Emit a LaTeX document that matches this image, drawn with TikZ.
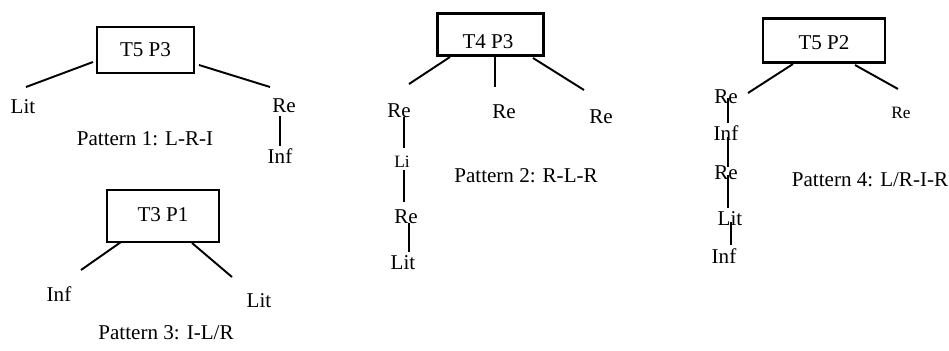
\documentclass[tikz,border=0pt]{standalone}
\usepackage{fontspec}
\setmainfont{Liberation Serif}
\begin{document}
\begin{tikzpicture}[x=0.75pt,y=-0.75pt,
  lbl/.style={inner sep=0pt,anchor=base,font=\fontsize{15.8}{18}\selectfont},
  sml/.style={inner sep=0pt,anchor=base,font=\fontsize{13}{15}\selectfont},
  boxthin/.style={draw,line width=1.5pt,inner sep=0pt},
  boxthick/.style={draw,line width=2.2pt,inner sep=0pt},
  conn/.style={line width=1.45pt}]
\useasboundingbox (0,0) rectangle (949,350);
% ---------- Pattern 1
\node[boxthin,minimum width=72.5pt,minimum height=34.5pt] (b1) at (145.5,50) {};
\node[lbl] (b1t) at (145.5,56.5) {T5 P3};
\node[lbl] (p1lit) at (23,113) {Lit};
\node[lbl] (p1re) at (284,112) {Re};
\node[lbl] (p1inf) at (280,163) {Inf};
\node[lbl] (p1cap) at (145,145) {Pattern 1: L-R-I};
\coordinate (a1) at (93,62); \coordinate (a2) at (26,87);
\coordinate (a3) at (199,65); \coordinate (a4) at (270,87);
\coordinate (a5) at (280,116); \coordinate (a6) at (280,146);
\draw[conn] (a1) -- (a2);
\draw[conn] (a3) -- (a4);
\draw[conn] (a5) -- (a6);
% ---------- Pattern 3
\node[boxthin,minimum width=84pt,minimum height=39pt] (b3) at (163,216) {};
\node[lbl] (b3t) at (163,221) {T3 P1};
\node[lbl] (p3inf) at (59,301) {Inf};
\node[lbl] (p3lit) at (259,307) {Lit};
\node[lbl] (p3cap) at (166,339) {Pattern 3: I-L/R};
\coordinate (c1) at (121,242); \coordinate (c2) at (81,270);
\coordinate (c3) at (192,243); \coordinate (c4) at (232,277);
\draw[conn] (c1) -- (c2);
\draw[conn] (c3) -- (c4);
% ---------- Pattern 2
\node[boxthick,minimum width=80pt,minimum height=32pt] (b2) at (490.5,34.5) {};
\node[lbl] (b2t) at (488,48) {T4 P3};
\node[lbl] (p2re1) at (399,117) {Re};
\node[lbl] (p2re2) at (504,118) {Re};
\node[lbl] (p2re3) at (601,123) {Re};
\node[sml] (p2li) at (402,167) {Li};
\node[lbl] (p2re4) at (406,223) {Re};
\node[lbl] (p2lit) at (403,269) {Lit};
\node[lbl] (p2cap) at (526,182) {Pattern 2: R-L-R};
\coordinate (d1) at (450,57); \coordinate (d2) at (409,84);
\coordinate (d3) at (495,55); \coordinate (d4) at (495,87);
\coordinate (d5) at (533,58); \coordinate (d6) at (584,90);
\coordinate (d7) at (404,117); \coordinate (d8) at (404,148);
\coordinate (d9) at (404,170); \coordinate (d10) at (404,202);
\coordinate (d11) at (409,223); \coordinate (d12) at (409,252);
\draw[conn] (d1) -- (d2);
\draw[conn] (d3) -- (d4);
\draw[conn] (d5) -- (d6);
\draw[conn] (d7) -- (d8);
\draw[conn] (d9) -- (d10);
\draw[conn] (d11) -- (d12);
% ---------- Pattern 4
\node[boxthick,minimum width=91.5pt,minimum height=33.5pt] (b4) at (824,40.5) {};
\node[lbl] (b4t) at (824,49) {T5 P2};
\node[lbl] (p4re1) at (726,103) {Re};
\node[lbl] (p4inf1) at (726,140) {Inf};
\node[lbl] (p4re2) at (726,179) {Re};
\node[lbl] (p4lit) at (730,225) {Lit};
\node[lbl] (p4inf2) at (724,263) {Inf};
\node[sml] (p4re3) at (901,118) {Re};
\node[lbl] (p4cap) at (870,186) {Pattern 4: L/R-I-R};
\coordinate (e1) at (793,64); \coordinate (e2) at (748,93);
\coordinate (e3) at (855,65); \coordinate (e4) at (898,89);
\coordinate (e5) at (728,98); \coordinate (e6) at (728,123);
\coordinate (e7) at (728,137); \coordinate (e8) at (728,167);
\coordinate (e9) at (728,175); \coordinate (e10) at (728,208);
\coordinate (e11) at (731,222); \coordinate (e12) at (731,245);
\draw[conn] (e1) -- (e2);
\draw[conn] (e3) -- (e4);
\draw[conn] (e5) -- (e6);
\draw[conn] (e7) -- (e8);
\draw[conn] (e9) -- (e10);
\draw[conn] (e11) -- (e12);
\end{tikzpicture}
\end{document}
